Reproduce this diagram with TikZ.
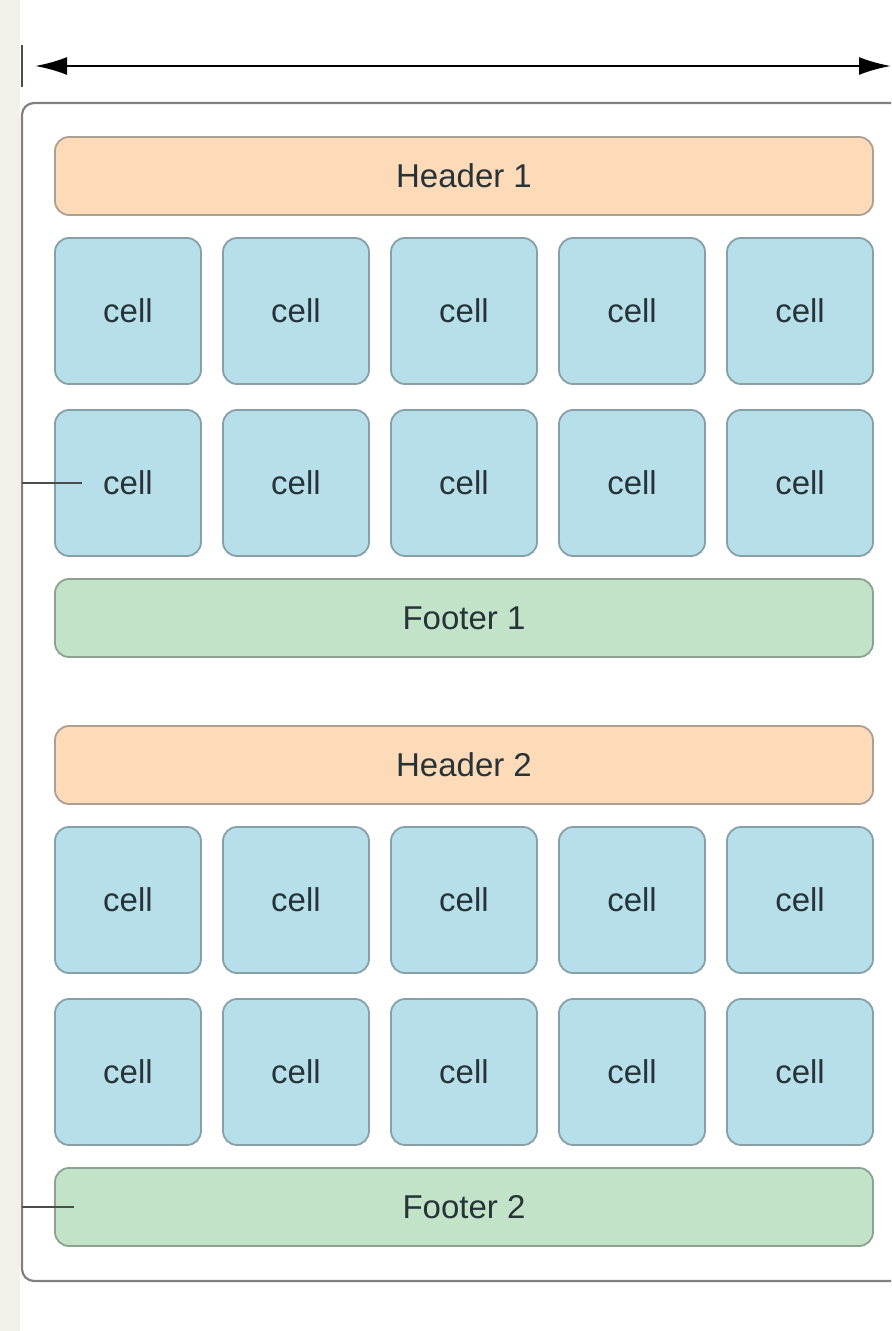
\documentclass[tikz,border=0pt]{standalone}
\usepackage{fontspec}
\setmainfont{Liberation Sans}
\usepackage{tikz}
\usetikzlibrary{arrows.meta}
\usetikzlibrary{positioning}
\definecolor{stripbg}{HTML}{F3F0EA}
\definecolor{headfill}{HTML}{FDDAB8}
\definecolor{headline}{HTML}{ABA092}
\definecolor{cellfill}{HTML}{B7DFEA}
\definecolor{cellline}{HTML}{879FA6}
\definecolor{footfill}{HTML}{C3E3C8}
\definecolor{footline}{HTML}{8DA191}
\definecolor{labeltext}{HTML}{26343A}
\tikzset{
% Define standard arrow tip
>={Latex[length=16pt, width=9pt]},
cellbox/.style={rectangle, rounded corners=7pt, line width=0.9pt,
  draw=cellline, fill=cellfill, minimum width=73pt, minimum height=73pt},
headbox/.style={rectangle, rounded corners=7pt, line width=0.9pt,
  draw=headline, fill=headfill, minimum width=409pt, minimum height=39pt},
footbox/.style={rectangle, rounded corners=7pt, line width=0.9pt,
  draw=footline, fill=footfill, minimum width=409pt, minimum height=39pt},
marker/.style={draw=black!70, line width=1.4pt}
}

\begin{document}
\begin{tikzpicture}[x=0.5pt, y=-0.5pt, inner sep=0, outer sep=0,
  font=\fontsize{16.5}{19}\selectfont, text=labeltext]
  \clip (0, 0) rectangle (891, 1331);
  \fill[white] (0, 0) rectangle (891, 1331);
  \fill[stripbg] (0, 0) rectangle (20, 1331);

  \node[rectangle, draw=black!50,
    anchor=north west,
    rounded corners=6pt,
    line width=1.1pt,
    fill=white,
    minimum width=450pt,
    minimum height=589pt] (frame) at (22, 103) {};

  % width arrow
  \coordinate (arrL) at (35, 66);
  \coordinate (arrR) at (891, 66);
  \draw[<->, line width=1.3pt] (arrL) -- (arrR);
  \coordinate (tickT) at (22, 45);
  \coordinate (tickB) at (22, 87);
  \draw[marker] (tickT) -- (tickB);

  \node[headbox] (head1) at (464, 176) {Header 1};
  \node[footbox] (foot1) at (464, 618) {Footer 1};
  \node[headbox] (head2) at (464, 765) {Header 2};
  \node[footbox] (foot2) at (464, 1207) {Footer 2};

  \foreach \r/\y in {1/311, 2/483, 3/900, 4/1072}
    \foreach \c in {1,...,5}
      \node[cellbox] (cell\r\c) at ({128+168*(\c-1)}, \y) {cell};

  \draw[marker] (frame.west |- cell21.center) -- ([xshift=13.5pt]cell21.west);
  \draw[marker] (frame.west |- foot2.center) -- ([xshift=9.5pt]foot2.west);
\end{tikzpicture}
\end{document}
